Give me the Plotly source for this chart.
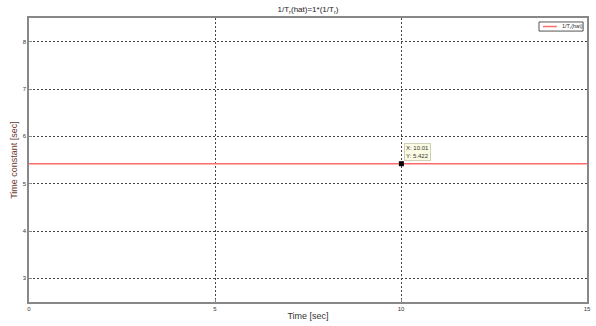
import plotly.graph_objects as go

time_s = [0, 2.5, 5, 7.5, 10.01, 12.5, 15]
tau_hat = [5.422, 5.422, 5.422, 5.422, 5.422, 5.422, 5.422]
tip_x = [10.01]
tip_y = [5.422]
x_ticks = [0, 5, 10, 15]
y_ticks = [3, 4, 5, 6, 7, 8]
series_name = "1/T<sub>r</sub>(hat)"

fig = go.Figure()
fig.add_trace(go.Scatter(x=time_s, y=tau_hat, mode="lines",
                         line=dict(color="#ff6b6b", width=1.5),
                         name=series_name, showlegend=False))
fig.add_trace(go.Scatter(x=tip_x, y=tip_y, mode="markers",
                         marker=dict(color="black", size=5, symbol="square"),
                         showlegend=False))
fig.add_annotation(x=tip_x[0], y=tip_y[0], xref="x", yref="y",
                   text=f"X: {tip_x[0]:.2f}<br>Y: {tip_y[0]:.3f}",
                   showarrow=True, arrowcolor="rgba(0,0,0,0)", ax=3, ay=-3,
                   xanchor="left", yanchor="bottom",
                   font=dict(size=6, color="#333", family="Liberation Sans"),
                   bgcolor="#fbfbe4", bordercolor="#d0d0b8", borderwidth=1,
                   borderpad=1, align="left")

# manual compact legend (top-right inside axes)
fig.add_shape(type="rect", xref="paper", yref="paper", x0=0.914, x1=0.993, y0=0.954, y1=0.986,
              line=dict(color="#555", width=1), fillcolor="white")
fig.add_shape(type="line", xref="paper", yref="paper", x0=0.921, x1=0.946, y0=0.970, y1=0.970,
              line=dict(color="#ff6b6b", width=1.5))
fig.add_annotation(xref="paper", yref="paper", x=0.951, y=0.970, text=series_name,
                   showarrow=False, xanchor="left", yanchor="middle",
                   font=dict(size=5.5, color="#333", family="Liberation Sans"))

grid = dict(showgrid=True, gridcolor="#444", griddash="2px,2px", gridwidth=0.8,
            zeroline=False, showline=True, linecolor="#888", linewidth=1.5,
            mirror=True, ticks="inside", ticklen=3, tickcolor="#888",
            automargin=False,
            tickfont=dict(size=6, color="#333", family="Liberation Sans"))

fig.update_layout(
    width=596, height=326,
    margin=dict(l=29, r=9, t=18, b=24),
    paper_bgcolor="white", plot_bgcolor="white",
    title=dict(text="1/T<sub>r</sub>(hat)=1*(1/T<sub>r</sub>)", xref="paper", x=0.5, xanchor="center",
               yref="container", y=0.98, yanchor="top", automargin=False,
               font=dict(size=8, color="#222", family="Liberation Sans")),
    xaxis=dict(range=[0, 15], tickvals=x_ticks,
               title=dict(text="Time [sec]", standoff=2,
                          font=dict(size=9, color="#333", family="Liberation Sans")),
               **grid),
    yaxis=dict(range=[2.5, 8.5], tickvals=y_ticks,
               title=dict(text="Time constant [sec]", standoff=4,
                          font=dict(size=9, color="#6a3a32", family="Liberation Sans")),
               **grid),
    showlegend=False,
)
fig.write_html("out.html", config={"displayModeBar": False},
               post_script="document.body.style.margin='0';document.body.style.padding='0';")
